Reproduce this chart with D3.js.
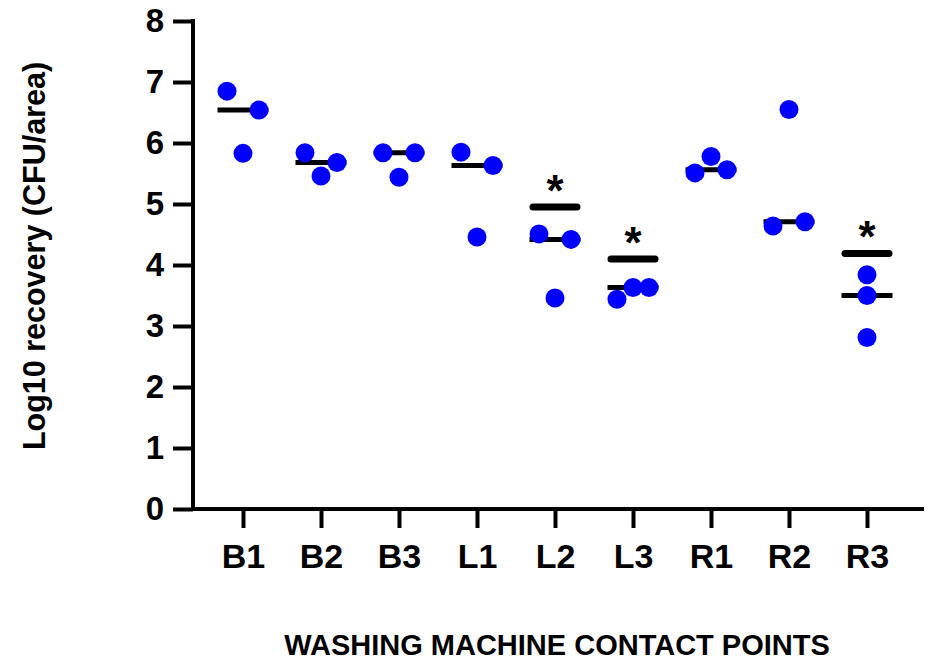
<!DOCTYPE html>
<html>
<head>
<meta charset="utf-8">
<script src="https://cdn.jsdelivr.net/npm/d3@7/dist/d3.min.js"></script>
<style>
  html, body { margin: 0; padding: 0; background: #fff; }
  svg { display: block; font-family: "Liberation Sans", Arial, sans-serif; }
</style>
</head>
<body>
<svg id="chart" width="932" height="662"></svg>
<script>
// Contact points sampled on the washing machine
const categories = ["B1", "B2", "B3", "L1", "L2", "L3", "R1", "R2", "R3"];

// Log10 recovery of each replicate, one list per contact point (in sampling order)
const replicates = [
  [6.85, 6.54, 5.83],
  [5.84, 5.68, 5.46],
  [5.84, 5.84, 5.44],
  [5.85, 5.63, 4.46],
  [4.51, 4.42, 3.46],
  [3.44, 3.63, 3.63],
  [5.51, 5.78, 5.56],
  [4.64, 4.71, 6.55],
  [3.84, 3.50, 2.81]
];

// Contact points marked as significant, with the level of their marker bar
const sigCategories = ["L2", "L3", "R3"];
const sigLevels = [4.95, 4.10, 4.19];

const yTicks = [0, 1, 2, 3, 4, 5, 6, 7, 8];

const plot = { left: 193, right: 922, top: 21, bottom: 509 };
const dotR = 9.5;
const dodge = 16;

const svg = d3.select("#chart");

const x = d3.scalePoint()
  .domain(categories)
  .range([plot.left + 50, plot.right - 55]);

const y = d3.scaleLinear()
  .domain([0, 8])
  .range([plot.bottom, plot.top]);

// Spread replicates that would overlap into a row, keeping their sampling order
function layoutGroup(vals) {
  const order = d3.range(vals.length).sort((a, b) => vals[b] - vals[a]);
  const rows = [];
  order.forEach(i => {
    const row = rows[rows.length - 1];
    if (row && Math.abs(y(vals[row[0]]) - y(vals[i])) < 2 * dotR + 1) row.push(i);
    else rows.push([i]);
  });
  const offsets = new Array(vals.length).fill(0);
  rows.forEach(row => {
    row.sort((a, b) => a - b);
    const n = row.length;
    const step = n % 2 === 0 ? 2 * dodge : dodge;
    row.forEach((i, j) => { offsets[i] = (j - (n - 1) / 2) * step; });
  });
  return offsets;
}

const points = [];
categories.forEach((c, ci) => {
  const vals = replicates[ci];
  const offs = layoutGroup(vals);
  vals.forEach((v, i) => points.push({ cat: c, value: v, dx: offs[i] }));
});

const medians = categories.map((c, ci) => ({ cat: c, value: d3.median(replicates[ci]) }));

// Axes
const axisStroke = 4;

const yAxis = svg.append("g")
  .attr("transform", `translate(${plot.left},0)`)
  .call(d3.axisLeft(y).tickValues(yTicks).tickFormat(d3.format("d")).tickSize(20).tickSizeOuter(0).tickPadding(9));
yAxis.select(".domain").remove();
yAxis.selectAll(".tick line").attr("stroke", "#000").attr("stroke-width", axisStroke);
yAxis.selectAll(".tick text")
  .attr("fill", "#000")
  .style("font-size", "33px")
  .style("font-weight", "bold");

const xAxis = svg.append("g")
  .attr("transform", `translate(0,${plot.bottom})`)
  .call(d3.axisBottom(x).tickSize(19).tickSizeOuter(0).tickPadding(16));
xAxis.select(".domain").remove();
xAxis.selectAll(".tick line").attr("stroke", "#000").attr("stroke-width", axisStroke);
xAxis.selectAll(".tick text")
  .attr("fill", "#000")
  .style("font-size", "34px")
  .style("font-weight", "bold");

// Axis lines
svg.append("path")
  .attr("d", `M${plot.left},${y(8)}V${y(0)}H${plot.right}`)
  .attr("fill", "none")
  .attr("stroke", "#000")
  .attr("stroke-width", axisStroke)
  .attr("stroke-linecap", "square");

// Median lines
svg.append("g").selectAll("line")
  .data(medians)
  .join("line")
  .attr("x1", d => x(d.cat) - 25.5)
  .attr("x2", d => x(d.cat) + 25.5)
  .attr("y1", d => y(d.value))
  .attr("y2", d => y(d.value))
  .attr("stroke", "#000")
  .attr("stroke-width", 5);

// Replicate dots
svg.append("g").selectAll("circle")
  .data(points)
  .join("circle")
  .attr("cx", d => x(d.cat) + d.dx)
  .attr("cy", d => y(d.value))
  .attr("r", dotR)
  .attr("fill", "#0000ff");

// Significance bars with asterisks
const sig = svg.append("g").selectAll("g")
  .data(sigCategories.map((c, i) => ({ cat: c, level: sigLevels[i] })))
  .join("g");
sig.append("line")
  .attr("x1", d => x(d.cat) - 22)
  .attr("x2", d => x(d.cat) + 22)
  .attr("y1", d => y(d.level))
  .attr("y2", d => y(d.level))
  .attr("stroke", "#000")
  .attr("stroke-width", 7)
  .attr("stroke-linecap", "round");
sig.append("text")
  .attr("x", d => x(d.cat))
  .attr("y", d => y(d.level) - 1)
  .attr("text-anchor", "middle")
  .style("font-size", "44px")
  .style("font-weight", "bold")
  .text("*");

// Axis titles
svg.append("text")
  .attr("transform", `translate(45,256) rotate(-90)`)
  .attr("text-anchor", "middle")
  .style("font-size", "30.5px")
  .style("font-weight", "bold")
  .text("Log10 recovery (CFU/area)");

svg.append("text")
  .attr("x", 557)
  .attr("y", 655)
  .attr("text-anchor", "middle")
  .style("font-size", "29px")
  .style("font-weight", "bold")
  .text("WASHING MACHINE CONTACT POINTS");
</script>
</body>
</html>
